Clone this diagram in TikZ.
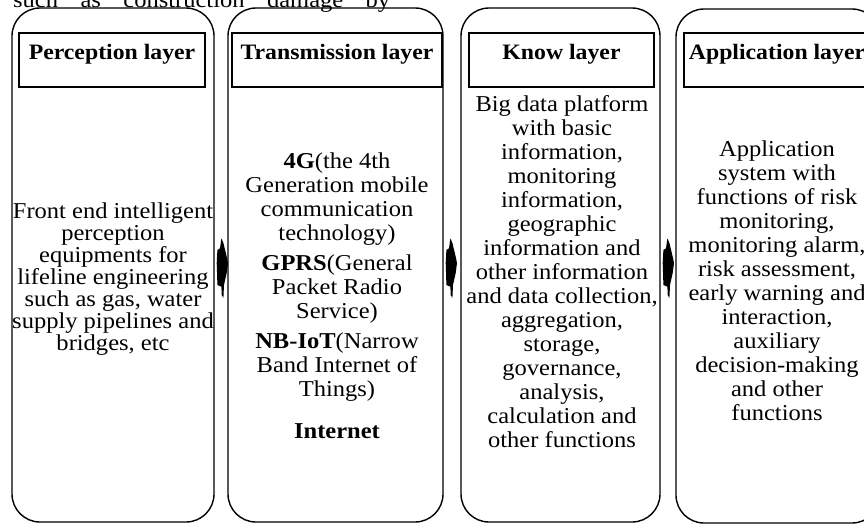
\documentclass[tikz,border=0pt]{standalone}
\usepackage{fontspec}
\setmainfont{Liberation Serif}[FakeStretch=1.08]

\begin{document}
\begin{tikzpicture}[x=1pt, y=-1pt,
  layer/.style={draw, line width=1.4pt, rounded corners=28pt, minimum height=514pt, inner sep=0pt},
  head/.style={draw, line width=2.2pt, minimum height=54pt, text height=16pt, text depth=18pt, inner sep=0pt,
    font=\fontsize{22}{26}\selectfont\bfseries},
  body/.style={align=center, inner sep=0pt, anchor=north, font=\fontsize{22.7}{24}\selectfont}]
  \newcommand*{\LayerArrow}[1]{%
    \fill[shift={(#1)}] (6.7,-26.7) -- (8.7,-22) -- (12,-8.3) -- (13.3,-2) -- (12,8) -- (9.3,20)
      -- (8.7,33) -- (7,30) -- (6.7,21.7) -- (2.7,20) -- (2,-2) -- (2.7,-15) -- (5.3,-16.7) -- cycle;}
  \useasboundingbox (0,0) rectangle (864,523);
  % line cut off from the page above
  \node[anchor=base west, inner sep=0pt, font=\fontsize{22.7}{24}\selectfont] (cut) at (13,7)
    {\makebox[377pt][s]{such as construction damage by}};
  % the four layers
  \node[layer, minimum width=202pt] (perc) at (113,265) {};
  \node[layer, minimum width=215pt] (trans) at (335.5,265) {};
  \node[layer, minimum width=199pt] (know) at (560.5,265) {};
  \node[layer, minimum width=204pt] (app) at (778,266) {};
  \node[head, minimum width=186pt] (perchead) at (112,60) {Perception layer};
  \node[head, minimum width=210pt] (transhead) at (337,60) {Transmission layer};
  \node[head, minimum width=185pt] (knowhead) at (561.5,60) {Know layer};
  \node[head, minimum width=186pt] (apphead) at (777,60) {Application layer};
  \node[body, font=\fontsize{22.7}{22}\selectfont] (perctext) at (113,203)
    {Front end intelligent\\perception\\equipments for\\lifeline engineering\\such as gas, water\\supply pipelines and\\bridges, etc};
  \node[body] (transtext) at (337,153)
    {\textbf{4G}(the 4th\\Generation mobile\\communication\\technology)\\[6pt]
     \textbf{GPRS}(General\\Packet Radio\\Service)\\[6pt]
     \textbf{NB-IoT}(Narrow\\Band Internet of\\Things)\\[18pt]
     \textbf{Internet}};
  \node[body] (knowtext) at (562,95.5)
    {Big data platform\\with basic\\information,\\monitoring\\information,\\geographic\\information and\\other information\\and data collection,\\aggregation,\\storage,\\governance,\\analysis,\\calculation and\\other functions};
  \node[body] (apptext) at (777,140.5)
    {Application\\system with\\functions of risk\\monitoring,\\monitoring alarm,\\risk assessment,\\early warning and\\interaction,\\auxiliary\\decision-making\\and other\\functions};
  % arrows between the layers
  \LayerArrow{perc.east}
  \LayerArrow{trans.east}
  \LayerArrow{know.east}
\end{tikzpicture}
\end{document}
